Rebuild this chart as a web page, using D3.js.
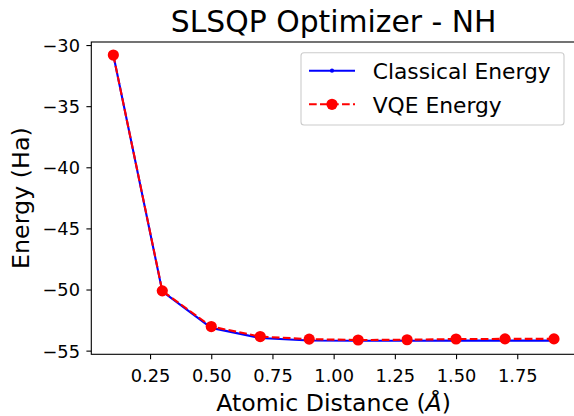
<!DOCTYPE html>
<html>
<head>
<meta charset="utf-8">
<script src="https://cdn.jsdelivr.net/npm/d3@7"></script>
<style>
  html, body { margin: 0; padding: 0; background: #fff; }
  svg { display: block; font-family: "DejaVu Sans", sans-serif; }
</style>
</head>
<body>
<svg id="chart" width="574" height="416"></svg>
<script>
const distances = [0.1, 0.3, 0.5, 0.7, 0.9, 1.1, 1.3, 1.5, 1.7, 1.9];
const classicalEnergy = [-30.82, -50.15, -53.14, -53.97, -54.17, -54.19, -54.19, -54.18, -54.18, -54.18];
const vqeEnergy = [-30.82, -50.11, -53.03, -53.85, -54.06, -54.13, -54.11, -54.05, -54.04, -54.04];
const xTicks = [0.25, 0.5, 0.75, 1.0, 1.25, 1.5, 1.75];
const yTicks = [-55, -50, -45, -40, -35, -30];
const seriesNames = ["Classical Energy", "VQE Energy"];
const titleText = "SLSQP Optimizer - NH";

const svg = d3.select("#chart");
const L = 91.3, R = 576, T = 42, B = 354.3;
const x = d3.scaleLinear().domain([0.01, 1.99]).range([L, R]);
const y = d3.scaleLinear().domain([-55.3, -29.75]).range([B, T]);

const fmtMinus = s => s.replace("-", "\u2212");
const tickFont = "17.8px";

// axes
const xAxis = d3.axisBottom(x).tickValues(xTicks).tickSize(4.9).tickPadding(4.9)
  .tickFormat(d => d3.format(".2f")(d));
const yAxis = d3.axisLeft(y).tickValues(yTicks).tickSize(4.9).tickPadding(4.9)
  .tickFormat(d => fmtMinus(String(d)));

const gx = svg.append("g").attr("transform", `translate(0,${B})`).call(xAxis);
const gy = svg.append("g").attr("transform", `translate(${L},0)`).call(yAxis);
[gx, gy].forEach(g => {
  g.select(".domain").remove();
  g.selectAll(".tick line").attr("stroke", "#000").attr("stroke-width", 1.1);
  g.selectAll(".tick text").attr("fill", "#000").attr("font-size", tickFont)
    .attr("font-family", "DejaVu Sans");
});
gx.selectAll(".tick text").attr("dy", null).attr("y", 27.4);
gy.selectAll(".tick text").attr("x", -11.3).attr("dy", "0.36em");

// frame
svg.append("rect").attr("x", L).attr("y", T).attr("width", R - L).attr("height", B - T)
  .attr("fill", "none").attr("stroke", "#000").attr("stroke-width", 1.1);

const line = d3.line().x((d, i) => x(distances[i])).y(d => y(d));

// classical
svg.append("path").datum(classicalEnergy).attr("d", line)
  .attr("fill", "none").attr("stroke", "#0000ff").attr("stroke-width", 2.1)
  .attr("stroke-linejoin", "round");
svg.append("g").selectAll("circle").data(classicalEnergy).join("circle")
  .attr("cx", (d, i) => x(distances[i])).attr("cy", d => y(d)).attr("r", 2.1)
  .attr("fill", "#0000ff");

// vqe
svg.append("path").datum(vqeEnergy).attr("d", line)
  .attr("fill", "none").attr("stroke", "#ff0000").attr("stroke-width", 2.1)
  .attr("stroke-dasharray", "7.7,3.3");
svg.append("g").selectAll("circle").data(vqeEnergy).join("circle")
  .attr("cx", (d, i) => x(distances[i])).attr("cy", d => y(d)).attr("r", 5.6)
  .attr("fill", "#ff0000");

// title
svg.append("text").attr("x", (L + R) / 2).attr("y", 31.5).attr("text-anchor", "middle")
  .attr("font-size", "29.8px").attr("fill", "#000").text(titleText);

// x label
const xl = svg.append("text").attr("x", (L + R) / 2).attr("y", 410.6).attr("text-anchor", "middle")
  .attr("font-size", "23.6px").attr("fill", "#000");
xl.append("tspan").text("Atomic Distance (");
xl.append("tspan").attr("font-style", "italic").text("\u00C5");
xl.append("tspan").text(")");

// y label
svg.append("text").attr("transform", `translate(28.5,${(T + B) / 2}) rotate(-90)`)
  .attr("text-anchor", "middle").attr("font-size", "23.8px").attr("fill", "#000")
  .text("Energy (Ha)");

// legend
const lg = svg.append("g");
lg.append("rect").attr("x", 301).attr("y", 52.7).attr("width", 263).attr("height", 72.3)
  .attr("rx", 3).attr("fill", "#fff").attr("fill-opacity", 0.8)
  .attr("stroke", "#cccccc").attr("stroke-width", 1.1);
const rows = [70.7, 104.3];
lg.append("line").attr("x1", 309).attr("x2", 355).attr("y1", rows[0]).attr("y2", rows[0])
  .attr("stroke", "#0000ff").attr("stroke-width", 2.1);
lg.append("circle").attr("cx", 332).attr("cy", rows[0]).attr("r", 2.1).attr("fill", "#0000ff");
lg.append("line").attr("x1", 309).attr("x2", 355).attr("y1", rows[1]).attr("y2", rows[1])
  .attr("stroke", "#ff0000").attr("stroke-width", 2.1).attr("stroke-dasharray", "7.7,3.3");
lg.append("circle").attr("cx", 332).attr("cy", rows[1]).attr("r", 5.6).attr("fill", "#ff0000");
seriesNames.forEach((name, i) => {
  lg.append("text").attr("x", 372.7).attr("y", rows[i] + 8.4).attr("font-size", "21.8px")
    .attr("fill", "#000").text(name);
});
</script>
</body>
</html>
